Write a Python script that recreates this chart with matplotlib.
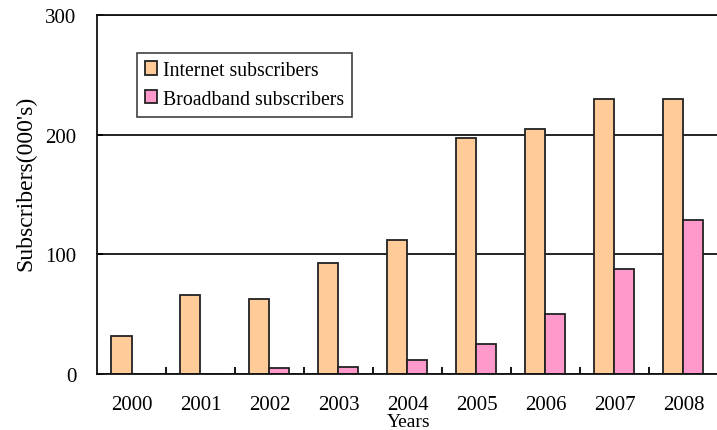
import numpy as np
import matplotlib.pyplot as plt

# data
years = ["2000", "2001", "2002", "2003", "2004", "2005", "2006", "2007", "2008"]
internet = [32, 66, 63, 93, 112, 197, 205, 230, 230]
broadband = [0, 0, 5, 6, 12, 25, 50, 88, 129]

plt.rcParams["font.family"] = ["Liberation Serif", "DejaVu Serif"]

fig = plt.figure(figsize=(7.17, 4.31), dpi=100)
ax = fig.add_axes([0.1353, 0.130, 0.866, 0.833])

x = np.arange(len(years))
w = 0.29
ax.bar(x - w / 2, internet, w, color="#ffcc99", edgecolor="#222222", linewidth=1.3,
       label="Internet subscribers")
ax.bar(x + w / 2, broadband, w, color="#ff99cc", edgecolor="#222222", linewidth=1.3,
       label="Broadband subscribers")

ax.set_xlim(-0.5, len(years) - 0.5)
ax.set_ylim(0, 300)
ax.set_yticks([0, 100, 200, 300])
ax.yaxis.grid(True, color="#111111", linewidth=1.3)
ax.set_axisbelow(True)

# category labels centred, tick marks on the boundaries
ax.set_xticks(x)
ax.set_xticklabels(years, fontsize=15)
ax.set_xticks(np.arange(len(years) - 1) + 0.5, minor=True)
ax.tick_params(axis="x", which="major", length=0, pad=15)
ax.tick_params(axis="x", which="minor", direction="in", length=5, width=1.3)
ax.tick_params(axis="y", direction="in", length=4, width=1.3, labelsize=15, pad=15)

ax.spines["right"].set_visible(False)
for s in ["left", "bottom", "top"]:
    ax.spines[s].set_linewidth(1.3)
    ax.spines[s].set_color("#111111")

ax.set_ylabel("Subscribers(000's)", fontsize=17)
ax.yaxis.set_label_coords(-0.097, 0.535)
fig.text(0.570, 0.0, "Years", fontsize=14, ha="center", va="bottom")

leg = ax.legend(loc="upper left", bbox_to_anchor=(0.064, 0.894), fontsize=14.2,
                frameon=True, fancybox=False, edgecolor="#111111",
                handlelength=0.65, handleheight=0.65, handletextpad=0.3,
                labelspacing=0.5, borderpad=0.4, borderaxespad=0)
leg.get_frame().set_linewidth(1.2)

plt.savefig("out.png", dpi=100)
